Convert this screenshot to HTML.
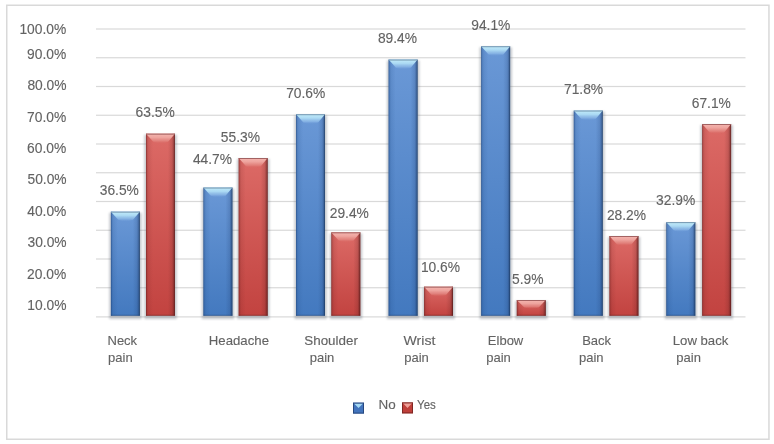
<!DOCTYPE html>
<html><head><meta charset="utf-8"><style>
html,body{margin:0;padding:0;background:#fff;}
body{width:774px;height:444px;overflow:hidden;}
svg{display:block;font-family:"Liberation Sans", sans-serif;will-change:transform;}
</style></head><body>
<svg width="774" height="444" viewBox="0 0 774 444">
<rect width="774" height="444" fill="#fff"/>
<defs>
<filter id="sf" x="-10%" y="-20%" width="120%" height="140%"><feGaussianBlur stdDeviation="0.45"/></filter>
<filter id="sh" x="-30%" y="-30%" width="160%" height="160%"><feGaussianBlur stdDeviation="0.9"/></filter>
<linearGradient id="bB" x1="0" y1="0" x2="0" y2="1">
 <stop offset="0" stop-color="#6a98d6"/><stop offset="1" stop-color="#4379bf"/></linearGradient>
<linearGradient id="rB" x1="0" y1="0" x2="0" y2="1">
 <stop offset="0" stop-color="#dc6a66"/><stop offset="1" stop-color="#c24340"/></linearGradient>
<linearGradient id="bS" x1="0" y1="0" x2="1" y2="0">
 <stop offset="0" stop-color="#163a70" stop-opacity="0.75"/>
 <stop offset="0.04" stop-color="#1f4a85" stop-opacity="0.3"/>
 <stop offset="0.09" stop-color="#1f4a85" stop-opacity="0.14"/>
 <stop offset="0.24" stop-color="#1f4a85" stop-opacity="0.0"/>
 <stop offset="0.76" stop-color="#1e3c6e" stop-opacity="0"/>
 <stop offset="0.9" stop-color="#1e3c6e" stop-opacity="0.18"/>
 <stop offset="0.96" stop-color="#16305a" stop-opacity="0.45"/>
 <stop offset="1" stop-color="#102848" stop-opacity="0.85"/></linearGradient>
<linearGradient id="rS" x1="0" y1="0" x2="1" y2="0">
 <stop offset="0" stop-color="#5a1616" stop-opacity="0.7"/>
 <stop offset="0.04" stop-color="#6a1e1e" stop-opacity="0.28"/>
 <stop offset="0.09" stop-color="#6a1e1e" stop-opacity="0.12"/>
 <stop offset="0.24" stop-color="#6a1e1e" stop-opacity="0.0"/>
 <stop offset="0.76" stop-color="#5a1e1e" stop-opacity="0"/>
 <stop offset="0.9" stop-color="#5a1e1e" stop-opacity="0.18"/>
 <stop offset="0.96" stop-color="#4a1414" stop-opacity="0.45"/>
 <stop offset="1" stop-color="#3a1010" stop-opacity="0.85"/></linearGradient>
<linearGradient id="bT" x1="0" y1="0" x2="0" y2="1">
 <stop offset="0" stop-color="#c2ecfa"/><stop offset="0.4" stop-color="#abd9f3"/><stop offset="0.75" stop-color="#8fbbe8" stop-opacity="0.75"/><stop offset="1" stop-color="#7aa6de" stop-opacity="0"/></linearGradient>
<linearGradient id="rT" x1="0" y1="0" x2="0" y2="1">
 <stop offset="0" stop-color="#f5b6b0"/><stop offset="0.4" stop-color="#eea49e"/><stop offset="0.75" stop-color="#e48a84" stop-opacity="0.75"/><stop offset="1" stop-color="#dc746f" stop-opacity="0"/></linearGradient>
</defs>
<rect x="6.5" y="5.25" width="262" height="10" fill="none"/>
<rect x="6.75" y="5.25" width="762.2" height="434.0" fill="none" stroke="#d9d9d9" stroke-width="1.5"/>
<rect x="96" y="316.30" width="649.5" height="1.2" fill="#d9d9d9"/>
<rect x="96" y="287.15" width="649.5" height="1.2" fill="#d9d9d9"/>
<rect x="96" y="258.40" width="649.5" height="1.2" fill="#d9d9d9"/>
<rect x="96" y="229.65" width="649.5" height="1.2" fill="#d9d9d9"/>
<rect x="96" y="200.90" width="649.5" height="1.2" fill="#d9d9d9"/>
<rect x="96" y="172.15" width="649.5" height="1.2" fill="#d9d9d9"/>
<rect x="96" y="143.40" width="649.5" height="1.2" fill="#d9d9d9"/>
<rect x="96" y="114.65" width="649.5" height="1.2" fill="#d9d9d9"/>
<rect x="96" y="85.90" width="649.5" height="1.2" fill="#d9d9d9"/>
<rect x="96" y="57.15" width="649.5" height="1.2" fill="#d9d9d9"/>
<rect x="96" y="28.40" width="649.5" height="1.2" fill="#d9d9d9"/>
<rect x="109.20" y="212.70" width="32.50" height="106.40" fill="#5a6470" opacity="0.34" filter="url(#sh)"/><rect x="110.90" y="211.70" width="28.9" height="104.00" fill="url(#bB)"/><rect x="110.90" y="211.70" width="28.9" height="104.00" fill="url(#bS)"/><path d="M110.90,211.70 L139.80,211.70 L132.80,220.10 Q125.35,222.50 118.40,220.10 Z" fill="url(#bT)" filter="url(#sf)"/><rect x="110.90" y="211.70" width="28.9" height="0.9" fill="#6f8fa8"/><rect x="110.90" y="314.80" width="28.9" height="0.9" fill="#213f6e" opacity="0.55"/>
<rect x="144.30" y="134.70" width="32.50" height="184.40" fill="#5a6470" opacity="0.34" filter="url(#sh)"/><rect x="146.00" y="133.70" width="28.9" height="182.00" fill="url(#rB)"/><rect x="146.00" y="133.70" width="28.9" height="182.00" fill="url(#rS)"/><path d="M146.00,133.70 L174.90,133.70 L167.90,142.10 Q160.45,144.50 153.50,142.10 Z" fill="url(#rT)" filter="url(#sf)"/><rect x="146.00" y="133.70" width="28.9" height="0.9" fill="#9a5a5a"/><rect x="146.00" y="314.80" width="28.9" height="0.9" fill="#5e1e1e" opacity="0.55"/>
<rect x="201.78" y="188.60" width="32.50" height="130.50" fill="#5a6470" opacity="0.34" filter="url(#sh)"/><rect x="203.48" y="187.60" width="28.9" height="128.10" fill="url(#bB)"/><rect x="203.48" y="187.60" width="28.9" height="128.10" fill="url(#bS)"/><path d="M203.48,187.60 L232.38,187.60 L225.38,196.00 Q217.93,198.40 210.98,196.00 Z" fill="url(#bT)" filter="url(#sf)"/><rect x="203.48" y="187.60" width="28.9" height="0.9" fill="#6f8fa8"/><rect x="203.48" y="314.80" width="28.9" height="0.9" fill="#213f6e" opacity="0.55"/>
<rect x="237.00" y="159.00" width="32.50" height="160.10" fill="#5a6470" opacity="0.34" filter="url(#sh)"/><rect x="238.70" y="158.00" width="28.9" height="157.70" fill="url(#rB)"/><rect x="238.70" y="158.00" width="28.9" height="157.70" fill="url(#rS)"/><path d="M238.70,158.00 L267.60,158.00 L260.60,166.40 Q253.15,168.80 246.20,166.40 Z" fill="url(#rT)" filter="url(#sf)"/><rect x="238.70" y="158.00" width="28.9" height="0.9" fill="#9a5a5a"/><rect x="238.70" y="314.80" width="28.9" height="0.9" fill="#5e1e1e" opacity="0.55"/>
<rect x="294.36" y="115.30" width="32.50" height="203.80" fill="#5a6470" opacity="0.34" filter="url(#sh)"/><rect x="296.06" y="114.30" width="28.9" height="201.40" fill="url(#bB)"/><rect x="296.06" y="114.30" width="28.9" height="201.40" fill="url(#bS)"/><path d="M296.06,114.30 L324.96,114.30 L317.96,122.70 Q310.51,125.10 303.56,122.70 Z" fill="url(#bT)" filter="url(#sf)"/><rect x="296.06" y="114.30" width="28.9" height="0.9" fill="#6f8fa8"/><rect x="296.06" y="314.80" width="28.9" height="0.9" fill="#213f6e" opacity="0.55"/>
<rect x="329.70" y="233.40" width="32.50" height="85.70" fill="#5a6470" opacity="0.34" filter="url(#sh)"/><rect x="331.40" y="232.40" width="28.9" height="83.30" fill="url(#rB)"/><rect x="331.40" y="232.40" width="28.9" height="83.30" fill="url(#rS)"/><path d="M331.40,232.40 L360.30,232.40 L353.30,240.80 Q345.85,243.20 338.90,240.80 Z" fill="url(#rT)" filter="url(#sf)"/><rect x="331.40" y="232.40" width="28.9" height="0.9" fill="#9a5a5a"/><rect x="331.40" y="314.80" width="28.9" height="0.9" fill="#5e1e1e" opacity="0.55"/>
<rect x="386.94" y="60.60" width="32.50" height="258.50" fill="#5a6470" opacity="0.34" filter="url(#sh)"/><rect x="388.64" y="59.60" width="28.9" height="256.10" fill="url(#bB)"/><rect x="388.64" y="59.60" width="28.9" height="256.10" fill="url(#bS)"/><path d="M388.64,59.60 L417.54,59.60 L410.54,68.00 Q403.09,70.40 396.14,68.00 Z" fill="url(#bT)" filter="url(#sf)"/><rect x="388.64" y="59.60" width="28.9" height="0.9" fill="#6f8fa8"/><rect x="388.64" y="314.80" width="28.9" height="0.9" fill="#213f6e" opacity="0.55"/>
<rect x="422.40" y="287.70" width="32.50" height="31.40" fill="#5a6470" opacity="0.34" filter="url(#sh)"/><rect x="424.10" y="286.70" width="28.9" height="29.00" fill="url(#rB)"/><rect x="424.10" y="286.70" width="28.9" height="29.00" fill="url(#rS)"/><path d="M424.10,286.70 L453.00,286.70 L446.00,295.10 Q438.55,297.50 431.60,295.10 Z" fill="url(#rT)" filter="url(#sf)"/><rect x="424.10" y="286.70" width="28.9" height="0.9" fill="#9a5a5a"/><rect x="424.10" y="314.80" width="28.9" height="0.9" fill="#5e1e1e" opacity="0.55"/>
<rect x="479.52" y="47.30" width="32.50" height="271.80" fill="#5a6470" opacity="0.34" filter="url(#sh)"/><rect x="481.22" y="46.30" width="28.9" height="269.40" fill="url(#bB)"/><rect x="481.22" y="46.30" width="28.9" height="269.40" fill="url(#bS)"/><path d="M481.22,46.30 L510.12,46.30 L503.12,54.70 Q495.67,57.10 488.72,54.70 Z" fill="url(#bT)" filter="url(#sf)"/><rect x="481.22" y="46.30" width="28.9" height="0.9" fill="#6f8fa8"/><rect x="481.22" y="314.80" width="28.9" height="0.9" fill="#213f6e" opacity="0.55"/>
<rect x="515.10" y="301.10" width="32.50" height="18.00" fill="#5a6470" opacity="0.34" filter="url(#sh)"/><rect x="516.80" y="300.10" width="28.9" height="15.60" fill="url(#rB)"/><rect x="516.80" y="300.10" width="28.9" height="15.60" fill="url(#rS)"/><path d="M516.80,300.10 L545.70,300.10 L538.70,307.48 Q531.25,309.88 524.30,307.48 Z" fill="url(#rT)" filter="url(#sf)"/><rect x="516.80" y="300.10" width="28.9" height="0.9" fill="#9a5a5a"/><rect x="516.80" y="314.80" width="28.9" height="0.9" fill="#5e1e1e" opacity="0.55"/>
<rect x="572.10" y="111.60" width="32.50" height="207.50" fill="#5a6470" opacity="0.34" filter="url(#sh)"/><rect x="573.80" y="110.60" width="28.9" height="205.10" fill="url(#bB)"/><rect x="573.80" y="110.60" width="28.9" height="205.10" fill="url(#bS)"/><path d="M573.80,110.60 L602.70,110.60 L595.70,119.00 Q588.25,121.40 581.30,119.00 Z" fill="url(#bT)" filter="url(#sf)"/><rect x="573.80" y="110.60" width="28.9" height="0.9" fill="#6f8fa8"/><rect x="573.80" y="314.80" width="28.9" height="0.9" fill="#213f6e" opacity="0.55"/>
<rect x="607.80" y="237.00" width="32.50" height="82.10" fill="#5a6470" opacity="0.34" filter="url(#sh)"/><rect x="609.50" y="236.00" width="28.9" height="79.70" fill="url(#rB)"/><rect x="609.50" y="236.00" width="28.9" height="79.70" fill="url(#rS)"/><path d="M609.50,236.00 L638.40,236.00 L631.40,244.40 Q623.95,246.80 617.00,244.40 Z" fill="url(#rT)" filter="url(#sf)"/><rect x="609.50" y="236.00" width="28.9" height="0.9" fill="#9a5a5a"/><rect x="609.50" y="314.80" width="28.9" height="0.9" fill="#5e1e1e" opacity="0.55"/>
<rect x="664.68" y="223.20" width="32.50" height="95.90" fill="#5a6470" opacity="0.34" filter="url(#sh)"/><rect x="666.38" y="222.20" width="28.9" height="93.50" fill="url(#bB)"/><rect x="666.38" y="222.20" width="28.9" height="93.50" fill="url(#bS)"/><path d="M666.38,222.20 L695.28,222.20 L688.28,230.60 Q680.83,233.00 673.88,230.60 Z" fill="url(#bT)" filter="url(#sf)"/><rect x="666.38" y="222.20" width="28.9" height="0.9" fill="#6f8fa8"/><rect x="666.38" y="314.80" width="28.9" height="0.9" fill="#213f6e" opacity="0.55"/>
<rect x="700.50" y="125.00" width="32.50" height="194.10" fill="#5a6470" opacity="0.34" filter="url(#sh)"/><rect x="702.20" y="124.00" width="28.9" height="191.70" fill="url(#rB)"/><rect x="702.20" y="124.00" width="28.9" height="191.70" fill="url(#rS)"/><path d="M702.20,124.00 L731.10,124.00 L724.10,132.40 Q716.65,134.80 709.70,132.40 Z" fill="url(#rT)" filter="url(#sf)"/><rect x="702.20" y="124.00" width="28.9" height="0.9" fill="#9a5a5a"/><rect x="702.20" y="314.80" width="28.9" height="0.9" fill="#5e1e1e" opacity="0.55"/>
<text x="66.22" y="33.97" font-size="13.8" text-anchor="end" fill="#636363" stroke="#636363" stroke-width="0.12">100.0%</text>
<text x="66.23" y="58.92" font-size="13.8" text-anchor="end" fill="#636363" stroke="#636363" stroke-width="0.12">90.0%</text>
<text x="66.57" y="89.66" font-size="13.8" text-anchor="end" fill="#636363" stroke="#636363" stroke-width="0.12">80.0%</text>
<text x="66.23" y="121.64" font-size="13.8" text-anchor="end" fill="#636363" stroke="#636363" stroke-width="0.12">70.0%</text>
<text x="66.23" y="153.17" font-size="13.8" text-anchor="end" fill="#636363" stroke="#636363" stroke-width="0.12">60.0%</text>
<text x="66.58" y="184.28" font-size="13.8" text-anchor="end" fill="#636363" stroke="#636363" stroke-width="0.12">50.0%</text>
<text x="66.38" y="215.71" font-size="13.8" text-anchor="end" fill="#636363" stroke="#636363" stroke-width="0.12">40.0%</text>
<text x="66.58" y="247.28" font-size="13.8" text-anchor="end" fill="#636363" stroke="#636363" stroke-width="0.12">30.0%</text>
<text x="66.23" y="278.8" font-size="13.8" text-anchor="end" fill="#636363" stroke="#636363" stroke-width="0.12">20.0%</text>
<text x="66.41" y="310.25" font-size="13.8" text-anchor="end" fill="#636363" stroke="#636363" stroke-width="0.12">10.0%</text>
<text x="99.78" y="195.0" font-size="13.8" text-anchor="start" fill="#636363" stroke="#636363" stroke-width="0.12">36.5%</text>
<text x="135.54" y="116.82" font-size="13.8" text-anchor="start" fill="#636363" stroke="#636363" stroke-width="0.12">63.5%</text>
<text x="192.91" y="164.19" font-size="13.8" text-anchor="start" fill="#636363" stroke="#636363" stroke-width="0.12">44.7%</text>
<text x="220.8" y="142.19" font-size="13.8" text-anchor="start" fill="#636363" stroke="#636363" stroke-width="0.12">55.3%</text>
<text x="286.19" y="98.08" font-size="13.8" text-anchor="start" fill="#636363" stroke="#636363" stroke-width="0.12">70.6%</text>
<text x="329.78" y="218.24" font-size="13.8" text-anchor="start" fill="#636363" stroke="#636363" stroke-width="0.12">29.4%</text>
<text x="377.88" y="43.48" font-size="13.8" text-anchor="start" fill="#636363" stroke="#636363" stroke-width="0.12">89.4%</text>
<text x="420.91" y="272.37" font-size="13.8" text-anchor="start" fill="#636363" stroke="#636363" stroke-width="0.12">10.6%</text>
<text x="471.26" y="30.25" font-size="13.8" text-anchor="start" fill="#636363" stroke="#636363" stroke-width="0.12">94.1%</text>
<text x="512.02" y="283.82" font-size="13.8" text-anchor="start" fill="#636363" stroke="#636363" stroke-width="0.12">5.9%</text>
<text x="564.0" y="93.63" font-size="13.8" text-anchor="start" fill="#636363" stroke="#636363" stroke-width="0.12">71.8%</text>
<text x="606.92" y="220.26" font-size="13.8" text-anchor="start" fill="#636363" stroke="#636363" stroke-width="0.12">28.2%</text>
<text x="656.09" y="205.28" font-size="13.8" text-anchor="start" fill="#636363" stroke="#636363" stroke-width="0.12">32.9%</text>
<text x="691.77" y="107.73" font-size="13.8" text-anchor="start" fill="#636363" stroke="#636363" stroke-width="0.12">67.1%</text>
<text x="107.5" y="345.0" font-size="13.0" text-anchor="start" fill="#636363" stroke="#636363" stroke-width="0.12">Neck</text>
<text x="208.8" y="345.0" font-size="13.0" text-anchor="start" fill="#636363" stroke="#636363" stroke-width="0.12" textLength="60.2" lengthAdjust="spacingAndGlyphs">Headache</text>
<text x="304.3" y="345.0" font-size="13.0" text-anchor="start" fill="#636363" stroke="#636363" stroke-width="0.12" textLength="53.6" lengthAdjust="spacingAndGlyphs">Shoulder</text>
<text x="403.6" y="345.0" font-size="13.0" text-anchor="start" fill="#636363" stroke="#636363" stroke-width="0.12" textLength="31.8" lengthAdjust="spacingAndGlyphs">Wrist</text>
<text x="487.85" y="345.0" font-size="13.0" text-anchor="start" fill="#636363" stroke="#636363" stroke-width="0.12">Elbow</text>
<text x="582.2" y="345.0" font-size="13.0" text-anchor="start" fill="#636363" stroke="#636363" stroke-width="0.12">Back</text>
<text x="672.75" y="345.0" font-size="13.0" text-anchor="start" fill="#636363" stroke="#636363" stroke-width="0.12" textLength="55.6" lengthAdjust="spacingAndGlyphs">Low back</text>
<text x="108.1" y="361.6" font-size="13.0" text-anchor="start" fill="#636363" stroke="#636363" stroke-width="0.12">pain</text>
<text x="309.7" y="361.6" font-size="13.0" text-anchor="start" fill="#636363" stroke="#636363" stroke-width="0.12">pain</text>
<text x="404.25" y="361.6" font-size="13.0" text-anchor="start" fill="#636363" stroke="#636363" stroke-width="0.12">pain</text>
<text x="486.2" y="361.6" font-size="13.0" text-anchor="start" fill="#636363" stroke="#636363" stroke-width="0.12">pain</text>
<text x="579.0" y="361.6" font-size="13.0" text-anchor="start" fill="#636363" stroke="#636363" stroke-width="0.12">pain</text>
<text x="676.3" y="361.6" font-size="13.0" text-anchor="start" fill="#636363" stroke="#636363" stroke-width="0.12">pain</text>
<text x="378.63" y="408.97" font-size="12.5" text-anchor="start" fill="#636363" stroke="#636363" stroke-width="0.12" textLength="17.2" lengthAdjust="spacingAndGlyphs">No</text>
<text x="417.08" y="408.53" font-size="12.5" text-anchor="start" fill="#636363" stroke="#636363" stroke-width="0.12" textLength="18.8" lengthAdjust="spacingAndGlyphs">Yes</text>
<rect x="353" y="402.6" width="11" height="11" fill="#4274bd"/><polygon points="354,403.40000000000003 363,403.40000000000003 358.5,408.1" fill="#a6daf4"/><rect x="353.5" y="403.1" width="10" height="10" fill="none" stroke="#1f3a6a" stroke-width="1" opacity="0.75"/>
<rect x="402" y="402.4" width="11" height="11" fill="#bf3f3a"/><polygon points="403,403.2 412,403.2 407.5,407.9" fill="#f0a098"/><rect x="402.5" y="402.9" width="10" height="10" fill="none" stroke="#6a1f1c" stroke-width="1" opacity="0.75"/>
</svg></body></html>
